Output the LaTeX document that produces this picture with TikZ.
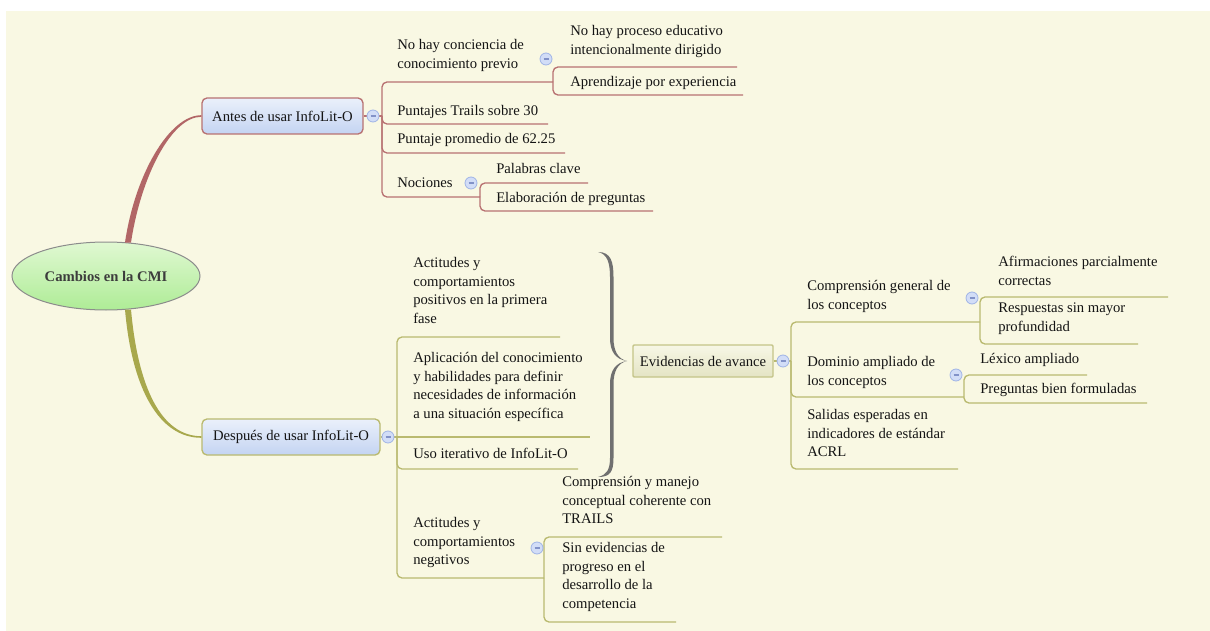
\documentclass[tikz,border=0pt]{standalone}
\usepackage{fontspec}
\setmainfont{Liberation Serif}
\usetikzlibrary{calc,shapes.geometric}
\definecolor{bg}{RGB}{249,248,227}
\definecolor{redln}{RGB}{184,114,114}
\definecolor{redthick}{RGB}{178,102,102}
\definecolor{oliveln}{RGB}{186,186,112}
\definecolor{olivethick}{RGB}{168,168,76}
\definecolor{txt}{RGB}{20,20,20}
\definecolor{blueT}{RGB}{234,240,251}
\definecolor{blueB}{RGB}{196,212,242}
\definecolor{greenT}{RGB}{224,248,210}
\definecolor{greenB}{RGB}{174,236,150}
\definecolor{minusF}{RGB}{210,221,247}
\definecolor{minusD}{RGB}{160,180,230}
\definecolor{minusL}{RGB}{130,146,200}
\definecolor{evT}{RGB}{247,247,230}
\definecolor{evB}{RGB}{228,228,196}
\definecolor{evD}{RGB}{196,196,136}
\definecolor{braceC}{RGB}{112,112,112}
\newcommand{\tf}{\fontsize{11}{14}\selectfont}
\begin{document}
\begin{tikzpicture}[x=0.75pt,y=-0.75pt,
  lbl/.style={anchor=north west, inner sep=0pt, align=left, font=\tf, text=txt, execute at begin node=\strut},
  ar/.style={draw=redln, line width=1pt},
  ol/.style={draw=oliveln, line width=1pt},
  rc/.style={rounded corners=3.75pt},
  mn/.style={circle, draw=minusD, fill=minusF, line width=0.6pt, minimum size=9pt, inner sep=0pt,
    path picture={\draw[minusL, line width=0.8pt] ($(path picture bounding box.center)+(-2.5,0)$) -- ($(path picture bounding box.center)+(2.5,0)$);}},
  topicA/.style={rectangle, rounded corners=3.75pt, draw=redln, line width=1pt, top color=blueT, bottom color=blueB, font=\tf, text=txt, inner sep=0pt, minimum height=27pt},
  topicD/.style={rectangle, rounded corners=3.75pt, draw=oliveln, line width=1pt, top color=blueT, bottom color=blueB, font=\tf, text=txt, inner sep=0pt, minimum height=27pt}
]
\useasboundingbox (0,0) rectangle (1210,631);
\fill[white] (0,0) rectangle (1210,631);
\fill[bg] (6,11) rectangle (1210,631);

% central and main topics
\node[ellipse, draw={rgb,255:red,140;green,140;blue,140}, line width=0.75pt, top color=greenT, bottom color=greenB,
  minimum width=141pt, minimum height=51pt, inner sep=0pt, font=\tf\bfseries, text={rgb,255:red,60;green,60;blue,60}]
  (root) at (106,276) {Cambios en la CMI};
\node[topicA, minimum width=120.75pt] (antes) at (282.5,116) {Antes de usar InfoLit-O};
\node[topicD, minimum width=133.5pt] (despues) at (291,437) {Después de usar InfoLit-O};
\node[rectangle, rounded corners=0.8pt, draw=evD, line width=1pt, top color=evT, bottom color=evB, font=\tf, text=txt,
  inner sep=0pt, minimum width=105pt, minimum height=24pt] (evid) at (703,361) {Evidencias de avance};

% tapered main connectors
\fill[redthick] ($(root.north)+(19,1)$) .. controls +(10,-68) and +(-32,0) .. ($(antes.west)+(0,-0.8)$)
  -- ($(antes.west)+(0,0.8)$) .. controls +(-30,0) and +(10,-66) .. ($(root.north)+(25,1)$) -- cycle;
\fill[olivethick] ($(root.south)+(19,-1)$) .. controls +(7,80) and +(-42,0) .. ($(despues.west)+(0,0.8)$)
  -- ($(despues.west)+(0,-0.8)$) .. controls +(-40,0) and +(7,78) .. ($(root.south)+(25,-1)$) -- cycle;

% ---- Antes branch
\coordinate (jA) at (382,116);
\coordinate (jA1) at (553,82);
\coordinate (u2) at (548,124);
\coordinate (u3) at (565,153);
\coordinate (jA4) at (480,197);
\coordinate (u11) at (737,67);
\coordinate (u12) at (743,95);
\coordinate (u41) at (588,183);
\coordinate (u42) at (653,211);
\draw[ar] (antes.east) -- (jA);
\draw[ar,rc] (jA) |- (jA1);
\draw[ar,rc] (jA) |- (u2);
\draw[ar,rc] (jA) |- (u3);
\draw[ar,rc] (jA) |- (jA4);
\draw[ar,rc] (jA1) |- (u11);
\draw[ar,rc] (jA1) |- (u12);
\draw[ar,rc] (jA4) |- (u41);
\draw[ar,rc] (jA4) |- (u42);
\node[lbl] (t1) at (397,39) {No hay conciencia de\\conocimiento previo};
\node[lbl] (t11) at (570,25) {No hay proceso educativo\\intencionalmente dirigido};
\node[lbl] (t12) at (570,73) {Aprendizaje por experiencia};
\node[lbl] (t2) at (397,102) {Puntajes Trails sobre 30};
\node[lbl] (t3) at (397,130) {Puntaje promedio de 62.25};
\node[lbl] (t4) at (397,174) {Nociones};
\node[lbl] (t41) at (496,160) {Palabras clave};
\node[lbl] (t42) at (496,189) {Elaboración de preguntas};
\node[mn] (mA) at (373,116) {};
\node[mn] (mA1) at (546,59) {};
\node[mn] (mA4) at (471,183) {};

% ---- Despues branch
\coordinate (jD) at (397,437);
\coordinate (v1) at (560,337);
\coordinate (v2) at (590,437);
\coordinate (v3) at (578,469);
\coordinate (jD4) at (544,578);
\coordinate (v41) at (722,537);
\coordinate (v42) at (676,622);
\draw[ol] (despues.east) -- (jD);
\draw[ol,rc] (jD) |- (v1);
\draw[ol] (jD) -- (v2);
\draw[ol,rc] (jD) |- (v3);
\draw[ol,rc] (jD) |- (jD4);
\draw[ol,rc] (jD4) |- (v41);
\draw[ol,rc] (jD4) |- (v42);
\node[lbl] (d1) at (413,257) {Actitudes y\\comportamientos\\positivos en la primera\\fase};
\node[lbl] (d2) at (413,352) {Aplicación del conocimiento\\y habilidades para definir\\necesidades de información\\a una situación específica};
\node[lbl] (d3) at (413,445) {Uso iterativo de InfoLit-O};
\node[lbl] (d4) at (413,517) {Actitudes y\\comportamientos\\negativos};
\node[lbl] (d41) at (562,476) {Comprensión y manejo\\conceptual coherente con\\TRAILS};
\node[lbl] (d42) at (562,542) {Sin evidencias de\\progreso en el\\desarrollo de la\\competencia};
\node[mn] (mD) at (388,437) {};
\node[mn] (mD4) at (537,548) {};

% ---- brace
\fill[braceC] (598,252) .. controls (611,252) and (613.5,262) .. (613.5,277) -- (613.5,338)
  .. controls (613.5,351) and (618,359) .. (627,361)
  .. controls (618,363) and (613.5,371) .. (613.5,384) -- (613.5,458)
  .. controls (613.5,472) and (610,477) .. (598,477)
  .. controls (607,475) and (610,469) .. (610,458) -- (610,384)
  .. controls (610,370) and (616,362.5) .. (627,361)
  .. controls (616,359.5) and (610,352) .. (610,338) -- (610,277)
  .. controls (610,262) and (607,254) .. (598,252) -- cycle;

% ---- Evidencias branch
\coordinate (jE) at (791,361);
\coordinate (jE1) at (980,322);
\coordinate (jE2) at (964,397);
\coordinate (w3) at (958,469);
\coordinate (w11) at (1168,297);
\coordinate (w12) at (1138,344);
\coordinate (w21) at (1087,375);
\coordinate (w22) at (1147,403);
\draw[ol] (evid.east) -- (jE);
\draw[ol,rc] (jE) |- (jE1);
\draw[ol,rc] (jE) |- (jE2);
\draw[ol,rc] (jE) |- (w3);
\draw[ol,rc] (jE1) |- (w11);
\draw[ol,rc] (jE1) |- (w12);
\draw[ol,rc] (jE2) |- (w21);
\draw[ol,rc] (jE2) |- (w22);
\node[lbl] (e1) at (807,280) {Comprensión general de\\los conceptos};
\node[lbl] (e11) at (998,256) {Afirmaciones parcialmente\\correctas};
\node[lbl] (e12) at (998,303) {Respuestas sin mayor\\profundidad};
\node[lbl] (e2) at (807,356) {Dominio ampliado de\\los conceptos};
\node[lbl] (e21) at (980,350) {Léxico ampliado};
\node[lbl] (e22) at (980,380) {Preguntas bien formuladas};
\node[lbl] (e3) at (807,409) {Salidas esperadas en\\indicadores de estándar\\ACRL};
\node[mn] (mE) at (783,361) {};
\node[mn] (mE1) at (972,298) {};
\node[mn] (mE2) at (956,375) {};
\end{tikzpicture}
\end{document}
